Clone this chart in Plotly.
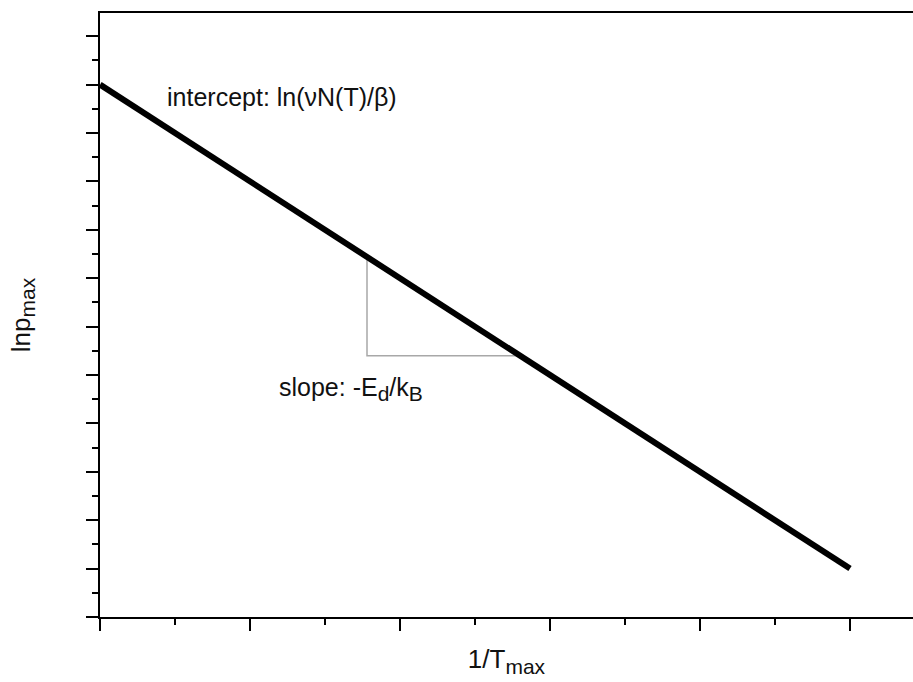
import plotly.graph_objects as go

# data values (axis units)
line_x = [0, 5]
line_y = [11, 1]
tri_x = [1.78, 1.78, 2.8]
tri_y = [7.44, 5.4, 5.4]


def sub(t, px):
    return "<sub><span style='font-size:%dpx'>%s</span></sub>" % (px, t)


intercept_label = "intercept: ln(\u03bdN(T)/\u03b2)"
slope_label = "slope: -E" + sub("d", 21) + "/k" + sub("B", 21)
x_title = "1/T" + sub("max", 21)
y_title = "lnp" + sub("max", 21)

FONT = "Arial, Liberation Sans, sans-serif"

fig = go.Figure()
fig.add_trace(go.Scatter(x=tri_x, y=tri_y, mode="lines",
                         line=dict(color="#a8a8a8", width=1.5), showlegend=False, hoverinfo="skip"))
fig.add_trace(go.Scatter(x=line_x, y=line_y, mode="lines",
                         line=dict(color="black", width=6), showlegend=False, hoverinfo="skip"))

fig.add_annotation(x=0.43, y=10.75, xref="x", yref="y", text=intercept_label, showarrow=False,
                   xanchor="left", yanchor="middle", font=dict(family=FONT, size=25, color="#111"))
fig.add_annotation(x=1.18, y=4.72, xref="x", yref="y", text=slope_label, showarrow=False,
                   xanchor="left", yanchor="middle", font=dict(family=FONT, size=25, color="#111"))

fig.update_layout(
    width=913, height=682,
    margin=dict(l=100, r=0, t=13, b=65),
    paper_bgcolor="white", plot_bgcolor="white",
    font=dict(family=FONT, size=25, color="#111"),
    xaxis=dict(range=[0, 5.42], showgrid=False, zeroline=False, showline=True, linecolor="black",
               linewidth=2, mirror=True, ticks="outside", ticklen=12, tickwidth=2, tickcolor="black",
               dtick=1, tick0=0, showticklabels=False, automargin=False,
               minor=dict(dtick=0.5, ticks="outside", ticklen=6, tickwidth=2, tickcolor="black"),
               title=dict(text=x_title, standoff=20, font=dict(size=26))),
    yaxis=dict(range=[0, 12.48], showgrid=False, zeroline=False, showline=True, linecolor="black",
               linewidth=2, ticks="outside", ticklen=12, tickwidth=2, tickcolor="black",
               dtick=1, tick0=0, showticklabels=False, automargin=False,
               minor=dict(dtick=0.5, ticks="outside", ticklen=6, tickwidth=2, tickcolor="black"),
               title=dict(text=y_title, standoff=48, font=dict(size=26))),
)

fig.write_html("out.html")
